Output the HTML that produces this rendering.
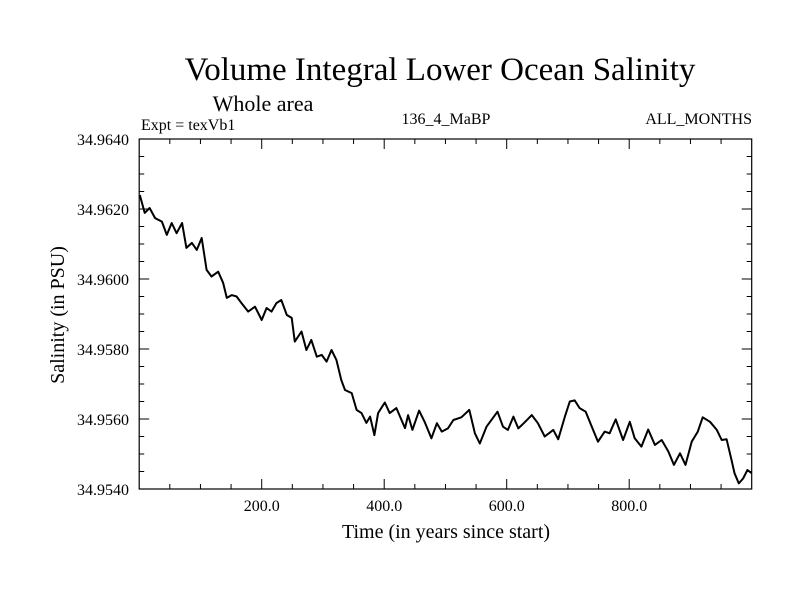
<!DOCTYPE html>
<html><head><meta charset="utf-8"><style>
html,body{margin:0;padding:0;background:#fff;}
svg{display:block;font-family:"Liberation Serif",serif;}
</style></head><body>
<svg id="chart" width="800" height="600" viewBox="0 0 800 600">
<text x="440" y="80" font-size="33" text-anchor="middle">Volume Integral Lower Ocean Salinity</text>
<text x="263" y="111" font-size="22" text-anchor="middle">Whole area</text>
<text x="141" y="130" font-size="16">Expt = texVb1</text>
<text x="446" y="124" font-size="16" text-anchor="middle">136_4_MaBP</text>
<text x="752" y="124" font-size="16" text-anchor="end">ALL_MONTHS</text>
<text x="446" y="538" font-size="20" text-anchor="middle">Time (in years since start)</text>
<text x="0" y="0" font-size="20" text-anchor="middle" transform="translate(64,315) rotate(-90)">Salinity (in PSU)</text>
<g id="axes"></g>
<path id="series" fill="none" stroke="#000" stroke-width="2" stroke-linejoin="round"/>
</svg>
<script>
const years = [1,9,17,26,37,45,53,61,70,77,86,94,102,110,118,129,137,143,151,159,167,178,189,200,208,216,224,232,241,249,254,265,273,281,290,298,306,314,322,330,336,347,355,363,371,377,384,390,401,409,420,434,439,446,457,466,477,486,494,504,513,526,539,548,556,567,585,594,602,611,619,628,641,651,662,676,684,695,703,711,719,729,739,749,760,768,778,790,801,809,820,831,842,853,864,873,883,892,902,912,920,932,943,951,959,967,972,979,986,993,1000];
const salinity = [34.9624,34.96189,34.96203,34.96174,34.96164,34.96126,34.9616,34.96131,34.9616,34.96089,34.96103,34.96083,34.96117,34.96026,34.96007,34.96021,34.95989,34.95946,34.95954,34.9595,34.95931,34.95907,34.95921,34.95883,34.95917,34.95907,34.95931,34.9594,34.95897,34.95889,34.95821,34.9585,34.95797,34.95826,34.95778,34.95783,34.95764,34.95797,34.95769,34.95711,34.95683,34.95674,34.95626,34.95617,34.95589,34.95607,34.95554,34.95617,34.95647,34.95617,34.95631,34.95574,34.95611,34.95569,34.95624,34.95592,34.95545,34.95588,34.95564,34.95573,34.95597,34.95605,34.95626,34.95559,34.9553,34.95578,34.95621,34.95578,34.95569,34.95607,34.95573,34.95588,34.95611,34.95588,34.9555,34.95569,34.95542,34.95607,34.9565,34.95653,34.95631,34.95621,34.95578,34.95535,34.95564,34.95559,34.95599,34.9554,34.95592,34.95545,34.95521,34.9557,34.95526,34.9554,34.95507,34.95469,34.95502,34.95469,34.95535,34.95564,34.95605,34.95592,34.95569,34.9554,34.95542,34.95483,34.95445,34.95416,34.9543,34.95454,34.95445];
const xTickLabels = ["200.0","400.0","600.0","800.0"];
const xTickValues = [200,400,600,800];
const yTickLabels = ["34.9540","34.9560","34.9580","34.9600","34.9620","34.9640"];
const yTickValues = [34.954,34.956,34.958,34.960,34.962,34.964];

const L=139.2,R=751.7,T=139,B=489;
const X0=0,X1=1000,Y0=34.954,Y1=34.964;
const xs=v=>L+(v-X0)/(X1-X0)*(R-L);
const ys=v=>B-(v-Y0)/(Y1-Y0)*(B-T);
const NS="http://www.w3.org/2000/svg";
const axes=document.getElementById('axes');
function ln(x1,y1,x2,y2,w){const l=document.createElementNS(NS,'line');l.setAttribute('x1',x1);l.setAttribute('y1',y1);l.setAttribute('x2',x2);l.setAttribute('y2',y2);l.setAttribute('stroke','#000');l.setAttribute('stroke-width',w||1);axes.appendChild(l);return l;}
const frame=document.createElementNS(NS,'rect');
frame.setAttribute('x',L);frame.setAttribute('y',T);frame.setAttribute('width',R-L);frame.setAttribute('height',B-T);
frame.setAttribute('fill','none');frame.setAttribute('stroke','#000');frame.setAttribute('stroke-width','1.2');


axes.appendChild(frame);
for(let v=50;v<X1;v+=50){const major=v%200===0;const len=major?10:5;const x=xs(v);
  const a=ln(x,B,x,B-len);
  const b=ln(x,T,x,T+len);}
for(let i=0;i<=20;i++){const v=Y0+i*0.0005;const major=i%4===0;const len=major?10:5;const y=ys(v);
  const a=ln(L,y,L+len,y);
  const b=ln(R,y,R-len,y);}
xTickValues.forEach((v,i)=>{const t=document.createElementNS(NS,'text');t.setAttribute('x',xs(v));t.setAttribute('y',511);t.setAttribute('font-size','16');t.setAttribute('text-anchor','middle');t.textContent=xTickLabels[i];
  
  
  axes.appendChild(t);});
yTickValues.forEach((v,i)=>{const t=document.createElementNS(NS,'text');t.setAttribute('x',129);t.setAttribute('y',ys(v)+6);t.setAttribute('font-size','16');t.setAttribute('text-anchor','end');t.textContent=yTickLabels[i];
  
  
  axes.appendChild(t);});
let d='';years.forEach((yr,i)=>{d+=(i?'L':'M')+xs(yr).toFixed(1)+','+ys(salinity[i]).toFixed(1);});
document.getElementById('series').setAttribute('d',d);
</script>
</body></html>
